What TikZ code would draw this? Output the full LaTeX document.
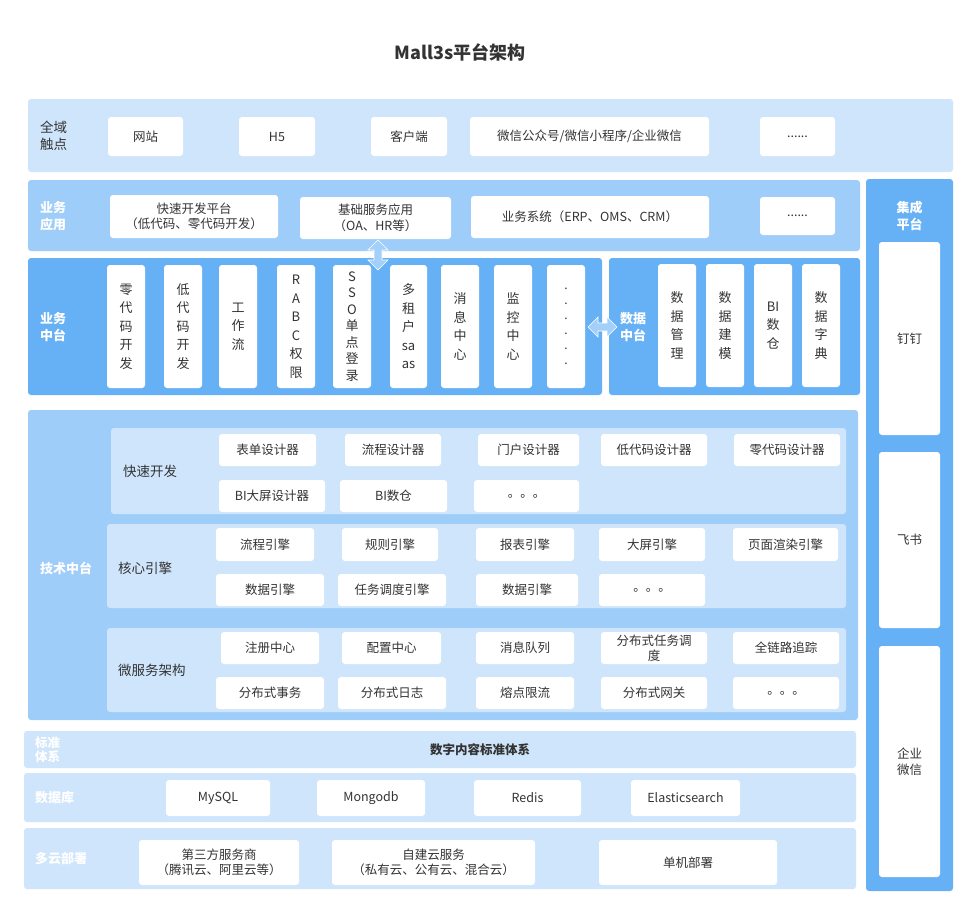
\documentclass[tikz,border=0pt]{standalone}
\usepackage{fontspec}
\setmainfont{Noto Sans CJK SC}
\usetikzlibrary{arrows.meta}
\definecolor{c1}{HTML}{CFE5FB}
\definecolor{c2}{HTML}{9FCDFA}
\definecolor{c3}{HTML}{66B1F6}
\definecolor{tx}{HTML}{333333}
\newcommand{\B}[7][]{\node[box,#1,minimum width={(#5-#3)*1pt},minimum height={(#6-#4)*1pt}] (#2) at ({(#3+#5)/2},{(#4+#6)/2}) {#7};}
\begin{document}
\begin{tikzpicture}[x=1pt,y=-1pt,
  box/.style={fill=white,rounded corners=3pt,inner sep=0pt,outer sep=0pt,align=center,text=tx,font=\fontsize{12.5}{15.5}\selectfont},
  band/.style={box,fill=#1,draw=none},
  vt/.style={font=\fontsize{13}{18.5}\selectfont},
  lab/.style={text=white,font=\bfseries\fontsize{13}{17}\selectfont,align=left,anchor=west,inner sep=0},
  dlab/.style={text=tx,font=\fontsize{13.5}{17}\selectfont,align=left,anchor=west,inner sep=0},
  dar/.style={draw=white,fill=c3!60!white,line width=0.6pt}]
\path[use as bounding box,fill=white] (0,0) rectangle (977,916);
\node[text=tx,font=\bfseries\fontsize{18}{20}\selectfont] (title) at (460,52) {Mall3s平台架构};
% 全域触点
\B[band=c1]{b1}{28}{99}{953}{172}{}
\node[dlab] (l1) at (40,136) {全域\\触点};
\B{t1}{108}{117}{183}{156}{网站}
\B{t2}{239}{117}{315}{156}{H5}
\B{t3}{371}{117}{447}{156}{客户端}
\B{t4}{470}{117}{709}{156}{微信公众号/微信小程序/企业微信}
\B{t5}{760}{117}{835}{156}{......}
% 业务应用
\B[band=c2]{b2}{28}{180}{860}{251}{}
\node[lab] (l2) at (40,216) {业务\\应用};
\B{a1}{110}{195}{278}{238}{快速开发平台\\（低代码、零代码开发）}
\B{a2}{300}{197}{451}{239}{基础服务应用\\（OA、HR等）}
\B{a3}{471}{196}{709}{238}{业务系统（ERP、OMS、CRM）}
\B{a4}{760}{197}{835}{235}{......}
% 业务中台
\B[band=c3]{b3}{28}{258}{602}{395}{}
\node[lab] (l3) at (40,327) {业务\\中台};
\B[vt]{m1}{107}{265}{145}{388}{零\\代\\码\\开\\发}
\B[vt]{m2}{164}{265}{202}{388}{低\\代\\码\\开\\发}
\B[vt]{m3}{219}{265}{257}{388}{工\\作\\流}
\B[vt]{m4}{277}{265}{315}{388}{R\\A\\B\\C\\权\\限}
\B[font=\fontsize{13}{16.5}\selectfont]{m5}{333}{265}{371}{388}{S\\S\\O\\单\\点\\登\\录}
\B[vt]{m6}{390}{265}{427}{388}{多\\租\\户\\sa\\as}
\B[vt]{m7}{441}{265}{479}{388}{消\\息\\中\\心}
\B[vt]{m8}{494}{265}{532}{388}{监\\控\\中\\心}
\B[font=\fontsize{12}{15}\selectfont]{m9}{547}{265}{585}{388}{.\\.\\.\\.\\.\\.}
% 数据中台
\B[band=c3]{b4}{609}{258}{860}{395}{}
\node[lab] (l4) at (620,327) {数据\\中台};
\B[vt]{d1}{658}{264}{696}{387}{数\\据\\管\\理}
\B[vt]{d2}{706}{264}{744}{387}{数\\据\\建\\模}
\B[vt]{d3}{754}{264}{792}{387}{BI\\数\\仓}
\B[vt]{d4}{802}{264}{840}{387}{数\\据\\字\\典}
% arrows
\draw[dar] (378,240) -- (388,250) -- (382,250) -- (382,260) -- (388,260) -- (378,270) -- (368,260) -- (374,260) -- (374,250) -- (368,250) -- cycle;
\draw[dar] (588,327) -- (598,317) -- (598,323) -- (607,323) -- (607,317) -- (617,327) -- (607,337) -- (607,331) -- (598,331) -- (598,337) -- cycle;
% 集成平台
\B[band=c3]{b5}{866}{179}{953}{891}{}
\node[text=white,font=\bfseries\fontsize{13}{17}\selectfont,align=center] (l5) at (909.5,216) {集成\\平台};
\B{i1}{879}{242}{940}{435}{钉钉}
\B{i2}{879}{452}{940}{628}{飞书}
\B{i3}{879}{646}{940}{877}{企业\\微信}
% 技术中台
\B[band=c2]{b6}{28}{410}{858}{720}{}
\node[lab] (l6) at (40,568) {技术中台};
\B[band=c1]{p1}{111}{428}{846}{514}{}
\node[dlab] (lp1) at (123,471) {快速开发};
\B{k1}{219}{434}{316}{466}{表单设计器}
\B{k2}{345}{434}{441}{466}{流程设计器}
\B{k3}{478}{434}{579}{466}{门户设计器}
\B{k4}{601}{434}{707}{466}{低代码设计器}
\B{k5}{734}{434}{840}{466}{零代码设计器}
\B{k6}{219}{480}{325}{512}{BI大屏设计器}
\B{k7}{340}{480}{447}{512}{BI数仓}
\B{k8}{474}{480}{579}{512}{。。。}
\B[band=c1]{p2}{107}{524}{846}{608}{}
\node[dlab] (lp2) at (118,568) {核心引擎};
\B{e1}{216}{528}{314}{561}{流程引擎}
\B{e2}{342}{528}{438}{561}{规则引擎}
\B{e3}{476}{528}{574}{561}{报表引擎}
\B{e4}{599}{528}{705}{561}{大屏引擎}
\B{e5}{733}{528}{838}{561}{页面渲染引擎}
\B{e6}{216}{574}{324}{606}{数据引擎}
\B{e7}{338}{574}{446}{606}{任务调度引擎}
\B{e8}{476}{574}{578}{606}{数据引擎}
\B{e9}{599}{574}{705}{606}{。。。}
\B[band=c1]{p3}{107}{628}{846}{712}{}
\node[dlab] (lp3) at (118,670) {微服务架构};
\B{s1}{221}{632}{319}{664}{注册中心}
\B{s2}{342}{632}{441}{664}{配置中心}
\B{s3}{476}{632}{574}{664}{消息队列}
\B{s4}{601}{632}{707}{664}{分布式任务调\\度}
\B{s5}{733}{632}{839}{664}{全链路追踪}
\B{s6}{216}{677}{324}{709}{分布式事务}
\B{s7}{338}{677}{446}{709}{分布式日志}
\B{s8}{476}{677}{574}{709}{熔点限流}
\B{s9}{601}{677}{707}{709}{分布式网关}
\B{s10}{733}{677}{839}{709}{。。。}
% 标准体系
\B[band=c1]{b7}{24}{731}{856}{768}{}
\node[lab,font=\bfseries\fontsize{12.5}{14}\selectfont] (l7) at (35,750) {标准\\体系};
\node[text=tx,font=\bfseries\fontsize{12.5}{15}\selectfont] (std) at (480,750) {数字内容标准体系};
% 数据库
\B[band=c1]{b8}{24}{773}{856}{822}{}
\node[lab] (l8) at (35,798) {数据库};
\B{db1}{166}{780}{270}{816}{MySQL}
\B{db2}{317}{780}{425}{816}{Mongodb}
\B{db3}{474}{780}{581}{816}{Redis}
\B{db4}{631}{780}{740}{816}{Elasticsearch}
% 多云部署
\B[band=c1]{b9}{24}{828}{856}{889}{}
\node[lab] (l9) at (35,859) {多云部署};
\B{y1}{139}{840}{299}{885}{第三方服务商\\（腾讯云、阿里云等）}
\B{y2}{332}{840}{535}{885}{自建云服务\\（私有云、公有云、混合云）}
\B{y3}{599}{840}{777}{885}{单机部署}
\end{tikzpicture}
\end{document}
